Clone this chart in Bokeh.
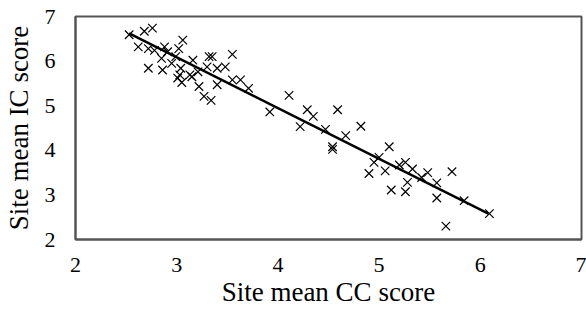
from bokeh.plotting import figure
from bokeh.models import FixedTicker
from bokeh.embed import file_html
from bokeh.resources import INLINE

cc_score = [2.53, 2.68, 2.76, 2.62, 2.72, 2.78, 2.88, 2.91, 2.85, 2.72, 2.86, 2.95, 2.99, 3.01,
            3.06, 3.02, 3.16, 3.04, 3.03, 3.13, 3.21, 3.32, 3.35, 3.55, 3.48, 3.40, 3.30, 3.27,
            3.34, 3.22, 3.40, 3.55, 3.63, 3.71, 3.05, 3.15,
            3.92, 4.11, 4.29, 4.22, 4.35, 4.47, 4.59, 4.54, 4.54, 4.67, 4.82,
            5.10, 5.00, 4.95, 4.90, 5.06, 5.20, 5.26, 5.33, 5.12, 5.26, 5.28, 5.42, 5.48,
            5.57, 5.57, 5.72, 5.84, 6.09, 5.66]
ic_score = [6.59, 6.67, 6.74, 6.32, 6.28, 6.24, 6.32, 6.21, 6.06, 5.84, 5.80, 5.95, 6.10, 5.62,
            6.47, 6.28, 6.02, 5.84, 5.69, 5.69, 5.76, 6.10, 6.10, 6.15, 5.87, 5.84, 5.87, 5.21,
            5.12, 5.43, 5.47, 5.58, 5.58, 5.39, 5.52, 5.65,
            4.86, 5.23, 4.91, 4.53, 4.76, 4.47, 4.91, 4.08, 4.02, 4.33, 4.54,
            4.08, 3.84, 3.73, 3.48, 3.54, 3.67, 3.73, 3.58, 3.11, 3.07, 3.28, 3.39, 3.50,
            3.27, 2.93, 3.52, 2.87, 2.58, 2.30]

fit_x = [2.53, 6.08]
fit_y = [6.62, 2.58]

ticks = [2, 3, 4, 5, 6, 7]

p = figure(width=586, height=309, x_range=(2, 7), y_range=(2, 7),
           output_backend="svg", toolbar_location=None,
           min_border_left=70, min_border_right=5, min_border_top=16, min_border_bottom=68)

p.scatter(cc_score, ic_score, marker="x", size=12, line_color="black", line_width=1.2)
p.line(fit_x, fit_y, line_color="black", line_width=2.5)

p.xgrid.visible = False
p.ygrid.visible = False
p.outline_line_color = "#555555"
p.outline_line_width = 2

font = "Liberation Serif"
for ax in (p.xaxis[0], p.yaxis[0]):
    ax.ticker = FixedTicker(ticks=ticks)
    ax.major_tick_line_color = None
    ax.minor_tick_line_color = None
    ax.axis_line_color = "#555555"
    ax.axis_line_width = 2
    ax.major_label_text_font = font
    ax.major_label_text_font_size = "22px"
    ax.major_label_text_color = "black"
    ax.axis_label_text_font = font
    ax.axis_label_text_font_size = "27px"
    ax.axis_label_text_font_style = "normal"
    ax.axis_label_text_color = "black"

p.xaxis.axis_label = "Site mean CC score"
p.yaxis.axis_label = "Site mean IC score"
p.xaxis.major_label_standoff = 12
p.yaxis.major_label_standoff = 14
p.xaxis.axis_label_standoff = 2
p.yaxis.axis_label_standoff = 8

open("out.html", "w").write(file_html(p, INLINE))
